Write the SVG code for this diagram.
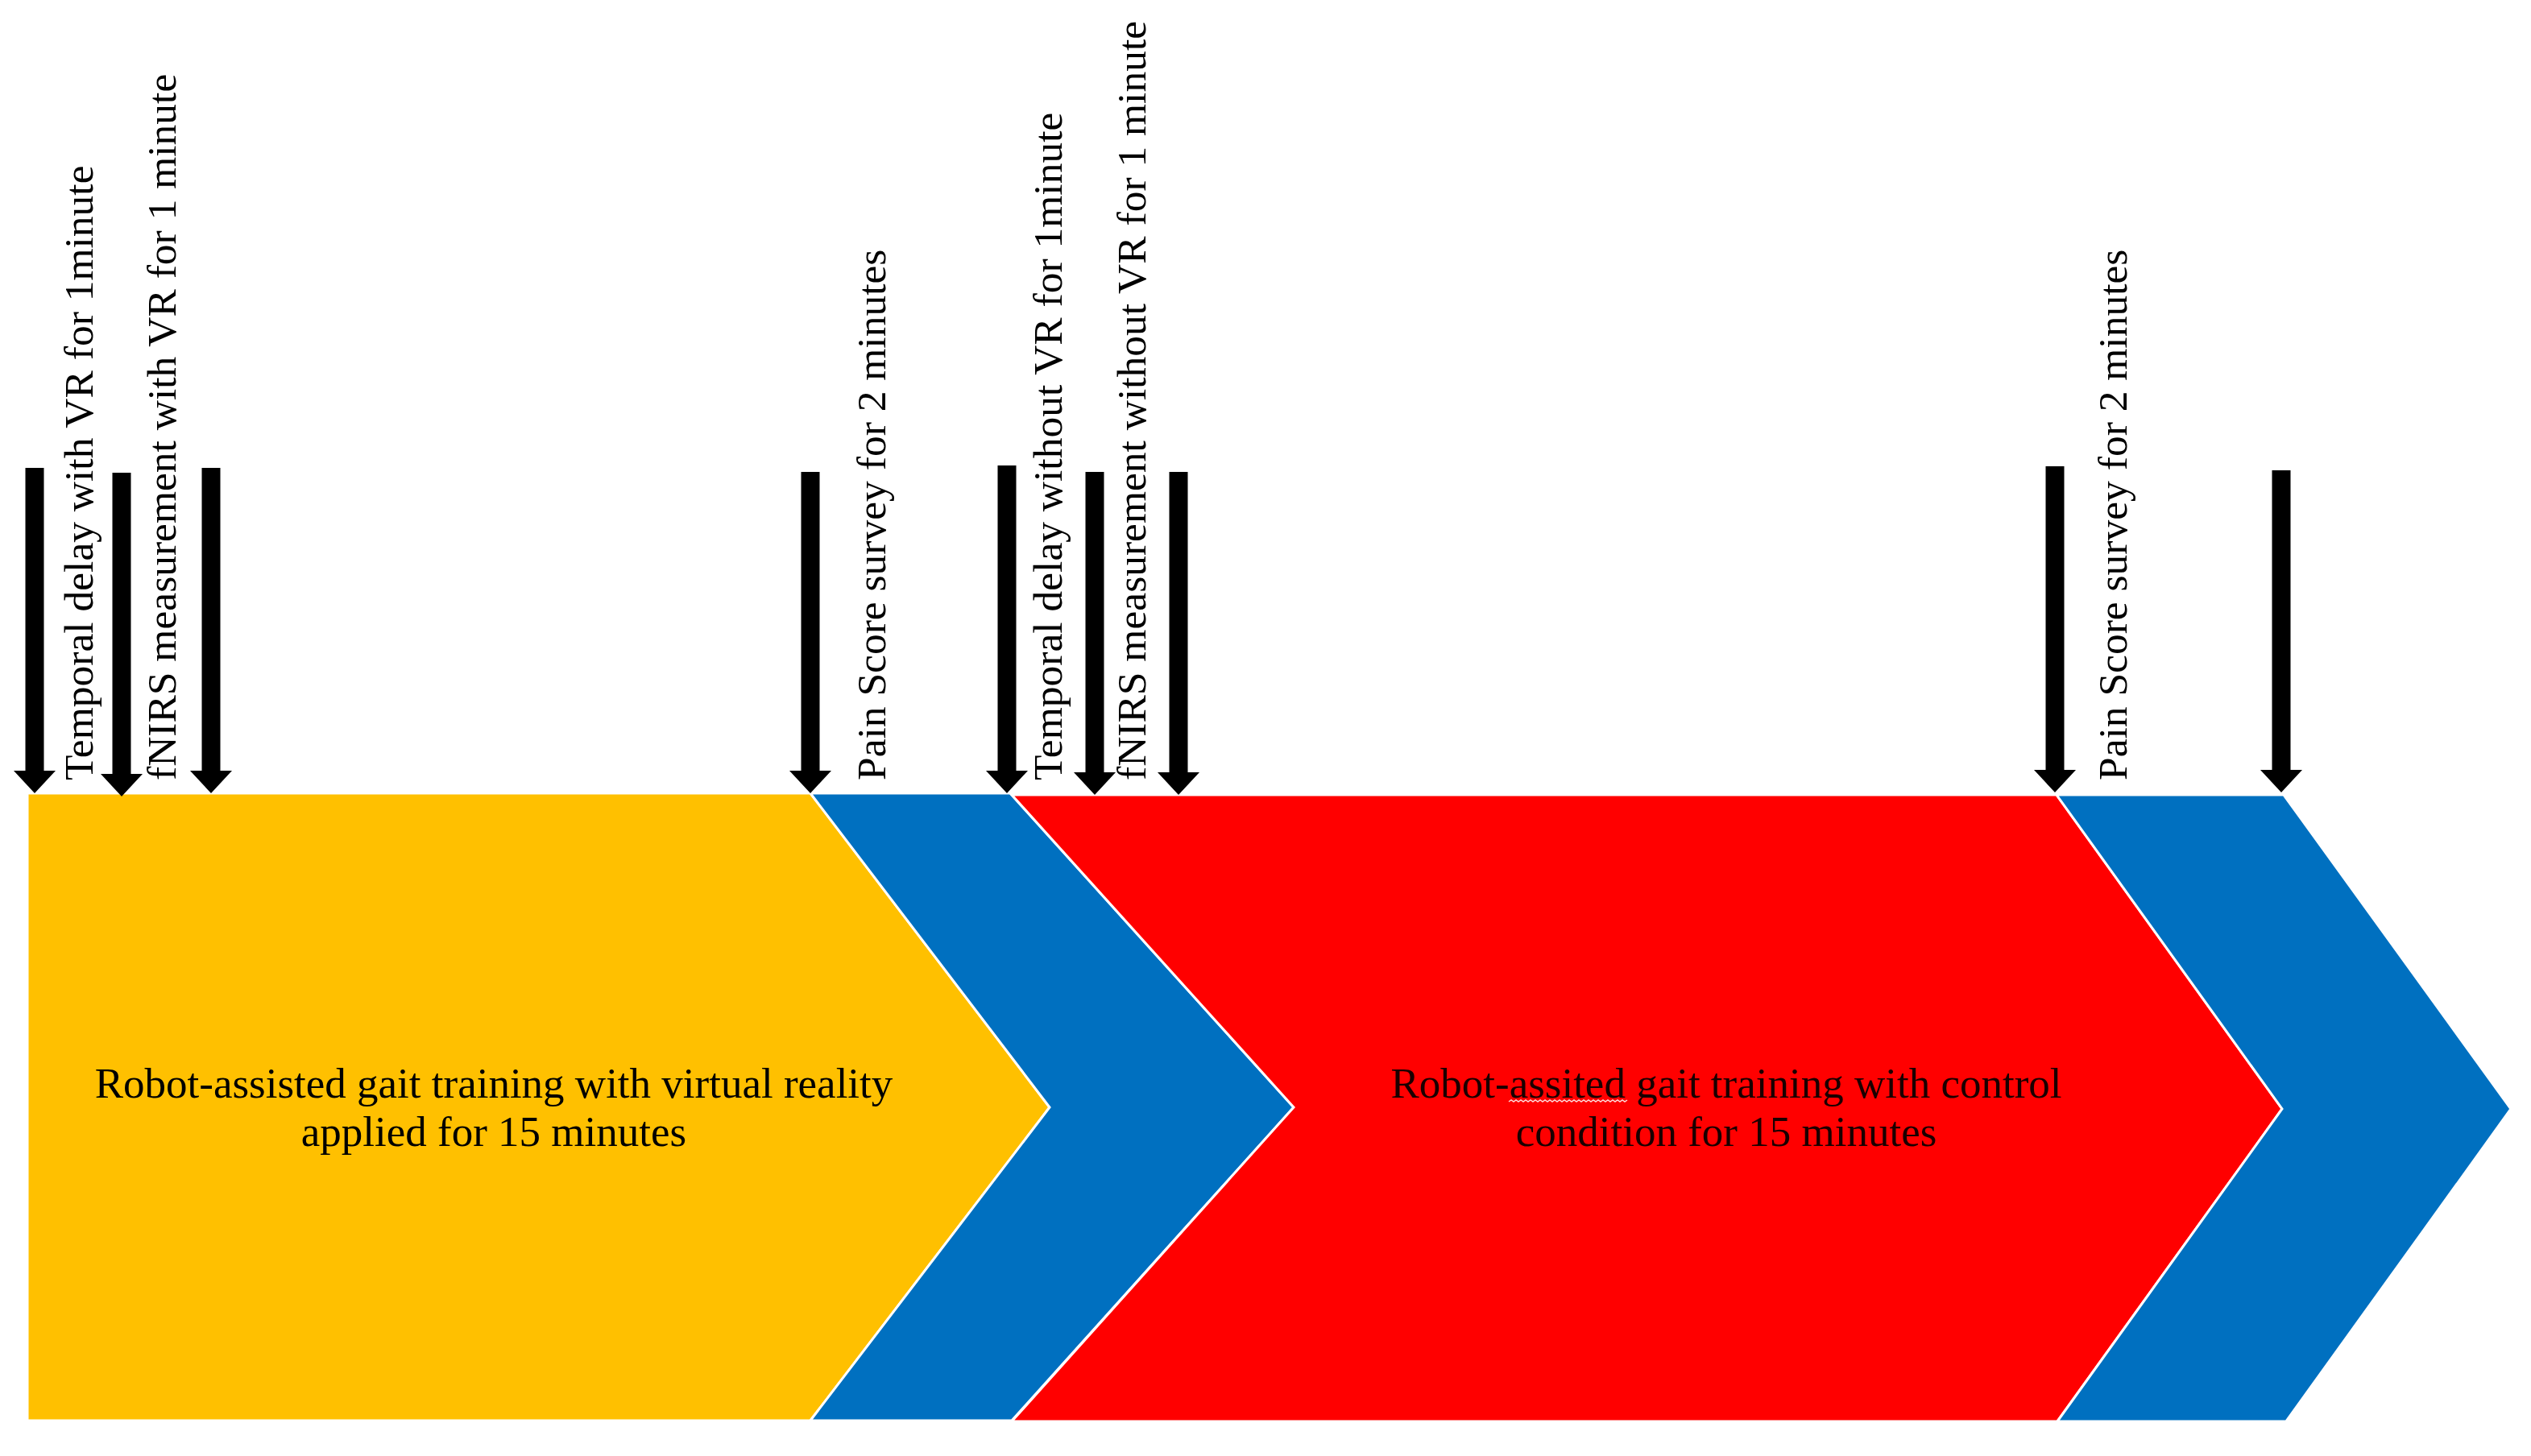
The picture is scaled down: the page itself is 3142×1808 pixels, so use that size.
<svg xmlns="http://www.w3.org/2000/svg" width="3142" height="1808" viewBox="0 0 3142 1808">
<style>
.stage{stroke:#ffffff;stroke-width:3;stroke-linejoin:miter}
.orange{fill:#FFC000}
.blue{fill:#0070C0}
.red{fill:#FF0000}
.arrow{fill:#000000}
.lbl{font-family:"Liberation Serif","Times New Roman",serif;font-size:51.5px;fill:#000000}
.main{font-family:"Liberation Serif","Times New Roman",serif;font-size:53px;fill:#000000;text-anchor:middle}
.main-red{fill:#1a0000}
</style>
<rect x="0" y="0" width="3142" height="1808" fill="#ffffff"/>

<g id="stage-vr">
  <polygon class="stage orange" points="34,985 1006,985 1303,1375 1006,1764 34,1764"/>
  <text class="main" x="613" y="1363">Robot-assisted gait training with virtual reality</text>
  <text class="main" x="613" y="1423">applied for 15 minutes</text>
</g>

<g id="stage-pain-1">
  <polygon class="stage blue" points="1006,985 1254,985 1606,1375 1256,1764 1006,1764 1303,1375"/>
</g>

<g id="stage-control">
  <polygon class="stage red" points="1256,987 2553,987 2833,1377 2554,1765 1256,1765 1606,1375"/>
  <text class="main main-red" x="2143" y="1363">Robot-assited gait training with control</text>
  <path d="M1873,1368 l3,-2 l3,2 l3,-2 l3,2 l3,-2 l3,2 l3,-2 l3,2 l3,-2 l3,2 l3,-2 l3,2 l3,-2 l3,2 l3,-2 l3,2 l3,-2 l3,2 l3,-2 l3,2 l3,-2 l3,2 l3,-2 l3,2 l3,-2 l3,2 l3,-2 l3,2 l3,-2 l3,2 l3,-2 l3,2 l3,-2 l3,2 l3,-2 l3,2 l3,-2 l3,2 l3,-2 l3,2 l3,-2 l3,2 l3,-2 l3,2 l3,-2 l3,2 l3,-2 l3,2 l3,-2" fill="none" stroke="#ffd8d8" stroke-width="1.5"/>
  <text class="main main-red" x="2143" y="1423">condition for 15 minutes</text>
</g>

<g id="stage-pain-2">
  <polygon class="stage blue" points="2553,987 2835,987 3117,1377 2838,1765 2554,1765 2833,1377"/>
</g>

<g id="connectors">
  <polygon class="arrow" points="31.5,581 54.5,581 54.5,957 69,957 43,985 17,957 31.5,957"/>
  <polygon class="arrow" points="139.5,587 162.5,587 162.5,961 177,961 151,989 125,961 139.5,961"/>
  <polygon class="arrow" points="250.5,581 273.5,581 273.5,957 288,957 262,985 236,957 250.5,957"/>
  <polygon class="arrow" points="994.5,586 1017.5,586 1017.5,957 1032,957 1006,985 980,957 994.5,957"/>
  <polygon class="arrow" points="1238.5,578 1261.5,578 1261.5,957 1276,957 1250,985 1224,957 1238.5,957"/>
  <polygon class="arrow" points="1347.5,586 1370.5,586 1370.5,959 1385,959 1359,987 1333,959 1347.5,959"/>
  <polygon class="arrow" points="1451.5,586 1474.5,586 1474.5,959 1489,959 1463,987 1437,959 1451.5,959"/>
  <polygon class="arrow" points="2539.5,579 2562.5,579 2562.5,956 2577,956 2551,984 2525,956 2539.5,956"/>
  <polygon class="arrow" points="2820.5,584 2843.5,584 2843.5,956 2858,956 2832,984 2806,956 2820.5,956"/>
</g>

<g id="label-temporal-vr">
  <text class="lbl" transform="translate(115,969) rotate(-90)">Temporal delay with VR for 1minute</text>
</g>
<g id="label-fnirs-vr">
  <text class="lbl" transform="translate(218,969) rotate(-90)">fNIRS measurement with VR for 1 minute</text>
</g>
<g id="label-pain-1">
  <text class="lbl" transform="translate(1099,969) rotate(-90)">Pain Score survey for 2 minutes</text>
</g>
<g id="label-temporal-novr">
  <text class="lbl" transform="translate(1318,969) rotate(-90)">Temporal delay without VR for 1minute</text>
</g>
<g id="label-fnirs-novr">
  <text class="lbl" transform="translate(1422,969) rotate(-90)">fNIRS measurement without VR for 1 minute</text>
</g>
<g id="label-pain-2">
  <text class="lbl" transform="translate(2640,969) rotate(-90)">Pain Score survey for 2 minutes</text>
</g>
</svg>
